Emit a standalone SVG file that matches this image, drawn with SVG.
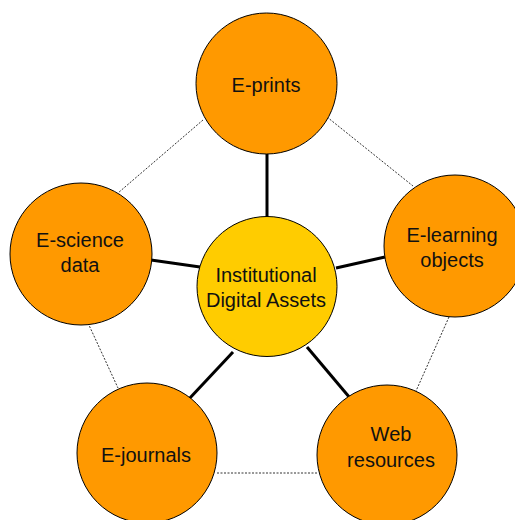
<svg xmlns="http://www.w3.org/2000/svg" width="515" height="520" viewBox="0 0 515 520">
  <style>
    .node { fill: #FF9900; stroke: #000; stroke-width: 1; }
    .hub { fill: #FFCC00; stroke: #000; stroke-width: 1; }
    .lbl { font-family: "Liberation Sans", Arial, sans-serif; font-size: 20px; fill: #111; text-anchor: middle; }
    .spoke { stroke: #000; stroke-width: 3; fill: none; }
    .ring { stroke: #333; stroke-width: 1; stroke-dasharray: 2 1.5; fill: none; }
  </style>
  <rect width="515" height="520" fill="#fff"/>
  <g id="connectors">
    <line class="ring" x1="203" y1="120" x2="118" y2="193"/>
    <line class="ring" x1="327" y1="117" x2="413" y2="186"/>
    <line class="ring" x1="88" y1="323" x2="118" y2="388"/>
    <line class="ring" x1="449" y1="317" x2="416" y2="391"/>
    <line class="ring" x1="217" y1="473" x2="318" y2="473"/>
    <line class="spoke" x1="267" y1="154" x2="267" y2="217"/>
    <line class="spoke" x1="151" y1="260" x2="200" y2="267"/>
    <line class="spoke" x1="336" y1="268" x2="385" y2="257"/>
    <line class="spoke" x1="233" y1="352" x2="189" y2="399"/>
    <line class="spoke" x1="307" y1="347" x2="350" y2="398"/>
  </g>
  <g id="hub">
    <circle class="hub" cx="267" cy="286.5" r="70"/>
    <text class="lbl" x="266" y="282">Institutional</text>
    <text class="lbl" x="266" y="307">Digital Assets</text>
  </g>
  <g id="eprints">
    <circle class="node" cx="266.5" cy="83.5" r="70.5"/>
    <text class="lbl" x="266" y="92">E-prints</text>
  </g>
  <g id="escience">
    <circle class="node" cx="81" cy="254" r="71"/>
    <text class="lbl" x="80" y="247">E-science</text>
    <text class="lbl" x="80" y="272">data</text>
  </g>
  <g id="elearning">
    <circle class="node" cx="455" cy="246" r="71"/>
    <text class="lbl" x="452" y="242">E-learning</text>
    <text class="lbl" x="452" y="267">objects</text>
  </g>
  <g id="ejournals">
    <circle class="node" cx="147" cy="453" r="70"/>
    <text class="lbl" x="146" y="462">E-journals</text>
  </g>
  <g id="web">
    <circle class="node" cx="387" cy="455" r="70"/>
    <text class="lbl" x="391" y="441">Web</text>
    <text class="lbl" x="391" y="467">resources</text>
  </g>
</svg>
